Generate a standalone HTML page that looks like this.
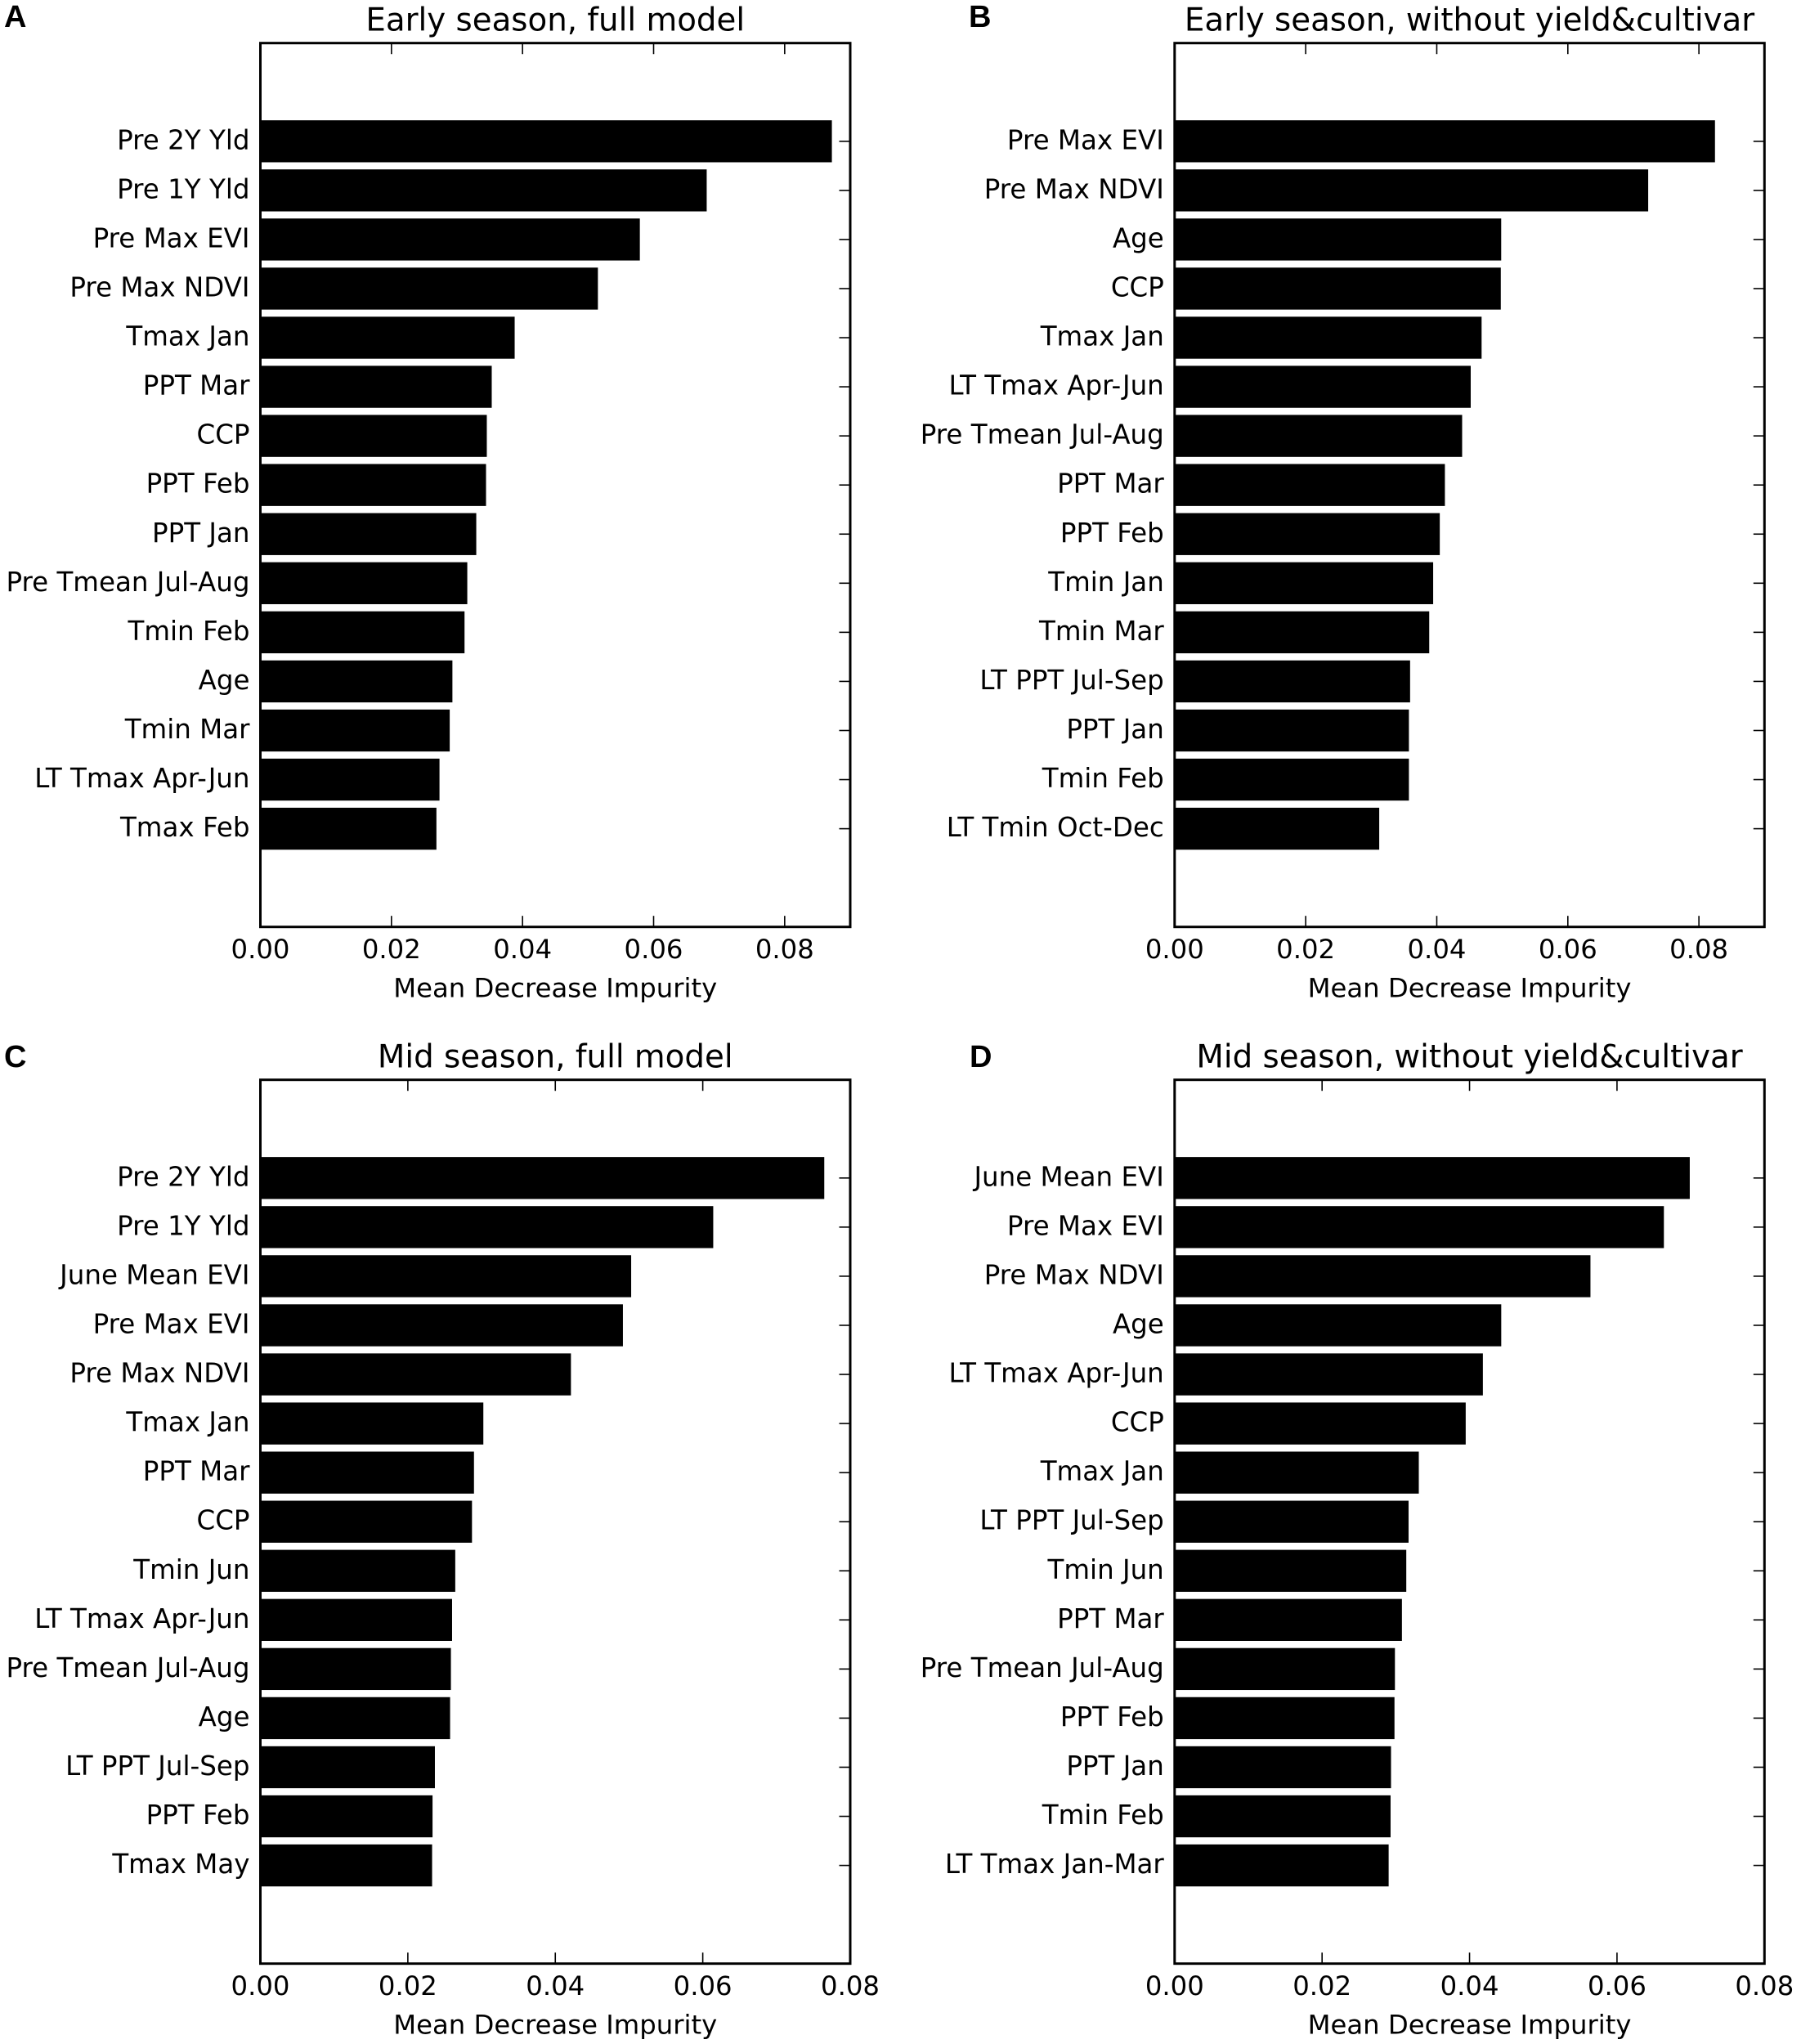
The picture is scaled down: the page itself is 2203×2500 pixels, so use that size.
<!DOCTYPE html>
<html lang="en">
<head>
<meta charset="utf-8">
<title>Feature importance bar charts</title>
<style>
  html, body { margin: 0; padding: 0; background: #fff; }
  svg { display: block; }
  text { font-family: "DejaVu Sans", "Liberation Sans", sans-serif; fill: #000; }
  .tick { font-size: 32.3px; }
  .cat { font-size: 32.5px; }
  .axis-title { font-size: 32.3px; }
  .panel-title { font-size: 38.75px; }
  .panel-letter { font-family: "Liberation Sans", sans-serif; font-weight: bold; font-size: 38px; }
</style>
</head>
<body>
<svg id="figure" xmlns="http://www.w3.org/2000/svg" width="2203" height="2500" viewBox="0 0 2203 2500">
  <rect x="0" y="0" width="2203" height="2500" fill="#fff"></rect>
  <text class="panel-letter" x="5" y="33">A</text>
  <text class="panel-letter" x="1185" y="33">B</text>
  <text class="panel-letter" x="5" y="1305">C</text>
  <text class="panel-letter" x="1186" y="1305">D</text>
</svg>
<script>
const categoriesA = ["Pre 2Y Yld","Pre 1Y Yld","Pre Max EVI","Pre Max NDVI","Tmax Jan","PPT Mar","CCP","PPT Feb","PPT Jan","Pre Tmean Jul-Aug","Tmin Feb","Age","Tmin Mar","LT Tmax Apr-Jun","Tmax Feb"];
const valuesA = [0.0872,0.0681,0.0579,0.0515,0.0388,0.0353,0.03455,0.03443,0.03294,0.03157,0.03115,0.0293,0.02889,0.02733,0.02686];

const categoriesB = ["Pre Max EVI","Pre Max NDVI","Age","CCP","Tmax Jan","LT Tmax Apr-Jun","Pre Tmean Jul-Aug","PPT Mar","PPT Feb","Tmin Jan","Tmin Mar","LT PPT Jul-Sep","PPT Jan","Tmin Feb","LT Tmin Oct-Dec"];
const valuesB = [0.08245,0.07226,0.04983,0.04977,0.04684,0.04518,0.04387,0.04124,0.04046,0.03945,0.03885,0.03593,0.03575,0.03575,0.03122];

const categoriesC = ["Pre 2Y Yld","Pre 1Y Yld","June Mean EVI","Pre Max EVI","Pre Max NDVI","Tmax Jan","PPT Mar","CCP","Tmin Jun","LT Tmax Apr-Jun","Pre Tmean Jul-Aug","Age","LT PPT Jul-Sep","PPT Feb","Tmax May"];
const valuesC = [0.07648,0.06142,0.05029,0.04917,0.04212,0.03024,0.02897,0.0287,0.02643,0.026,0.02584,0.02573,0.02367,0.02335,0.02329];

const categoriesD = ["June Mean EVI","Pre Max EVI","Pre Max NDVI","Age","LT Tmax Apr-Jun","CCP","Tmax Jan","LT PPT Jul-Sep","Tmin Jun","PPT Mar","Pre Tmean Jul-Aug","PPT Feb","PPT Jan","Tmin Feb","LT Tmax Jan-Mar"];
const valuesD = [0.06987,0.06636,0.0564,0.0443,0.04181,0.03948,0.03312,0.03173,0.03142,0.03083,0.02988,0.02982,0.02935,0.02929,0.02903];

const tickLabelsEarly = ["0.00","0.02","0.04","0.06","0.08"];
const tickLabelsMid = ["0.00","0.02","0.04","0.06","0.08"];
const axisMaxEarly = 0.09;
const axisMaxMid = 0.08;
const xAxisTitle = "Mean Decrease Impurity";
const titleA = "Early season, full model";
const titleB = "Early season, without yield&cultivar";
const titleC = "Mid season, full model";
const titleD = "Mid season, without yield&cultivar";

const NS = "http://www.w3.org/2000/svg";
const fig = document.getElementById("figure");

function node(tag, attrs, parent, text) {
  const el = document.createElementNS(NS, tag);
  for (const k in attrs) el.setAttribute(k, attrs[k]);
  if (text !== undefined) el.textContent = text;
  parent.appendChild(el);
  return el;
}

function drawPanel(key, left, top, categories, values, tickLabels, axisMax, title) {
  const right = left + 721.5;
  const bottom = top + 1081;
  const g = node("g", {}, fig);
  
  

  const xScale = v => left + (v / axisMax) * (right - left);
  const slot = (bottom - top) / (categories.length + 3);
  const yScale = i => top + slot * (i + 2);
  const barH = slot * 0.855;

  values.forEach((v, i) => {
    const bar = node("rect", {
      x: left,
      y: yScale(i) - barH / 2,
      width: xScale(v) - left,
      height: barH,
      fill: "#000"
    }, g);
    
    

    const rt = node("line", {
      x1: right - 13.5, x2: right,
      y1: yScale(i), y2: yScale(i),
      stroke: "#000", "stroke-width": 1.6
    }, g);
    
    

    const label = node("text", {
      class: "cat",
      x: left - 13,
      y: yScale(i) + 9.5,
      "text-anchor": "end"
    }, g, categories[i]);
    
    
  });

  tickLabels.forEach(t => {
    const v = parseFloat(t);
    const x = xScale(v);
    if (v > 0 && v < axisMax) {
      const tt = node("line", { x1: x, x2: x, y1: top, y2: top + 13.5, stroke: "#000", "stroke-width": 1.6 }, g);
      
      
      const tb = node("line", { x1: x, x2: x, y1: bottom - 13.5, y2: bottom, stroke: "#000", "stroke-width": 1.6 }, g);
      
      
    }
    const lab = node("text", { class: "tick", x: x, y: bottom + 38.5, "text-anchor": "middle" }, g, t);
    
    
  });

  const frame = node("rect", {
    x: left, y: top, width: right - left, height: bottom - top,
    fill: "none", stroke: "#000", "stroke-width": 3
  }, g);
  
  

  const mid = (left + right) / 2;
  const ttl = node("text", { class: "panel-title", x: mid, y: top - 15, "text-anchor": "middle" }, g, title);
  
  

  const xl = node("text", { class: "axis-title", x: mid, y: bottom + 86, "text-anchor": "middle" }, g, xAxisTitle);
  
  
}

drawPanel("a", 318.5, 52.7, categoriesA, valuesA, tickLabelsEarly, axisMaxEarly, titleA);
drawPanel("b", 1436.8, 52.7, categoriesB, valuesB, tickLabelsEarly, axisMaxEarly, titleB);
drawPanel("c", 318.5, 1320.7, categoriesC, valuesC, tickLabelsMid, axisMaxMid, titleC);
drawPanel("d", 1436.8, 1320.7, categoriesD, valuesD, tickLabelsMid, axisMaxMid, titleD);
</script>
</body>
</html>
